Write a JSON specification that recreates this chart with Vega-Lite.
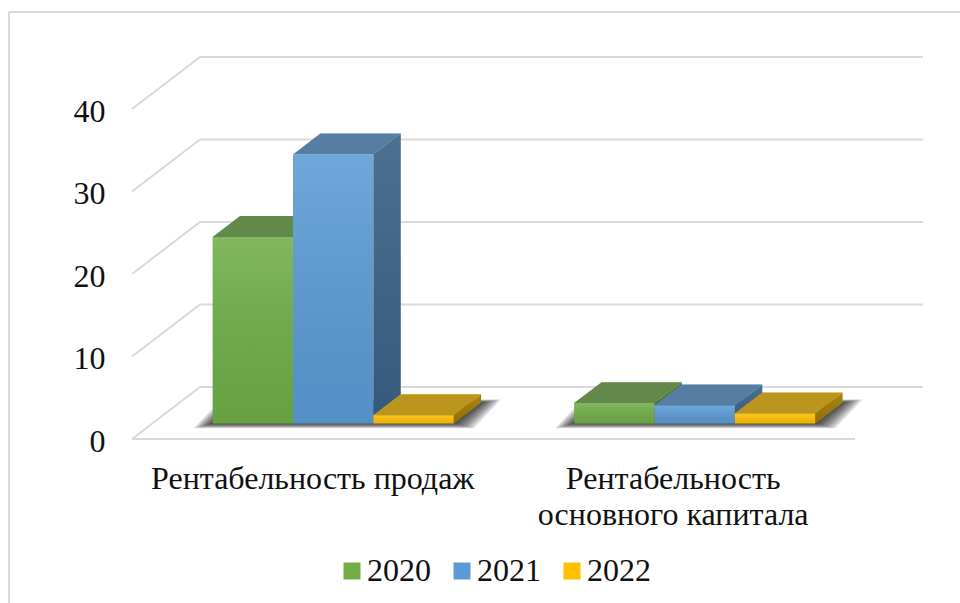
{
"$schema":"https://vega.github.io/schema/vega-lite/v6.json",
"width":960,"height":603,"padding":0,"autosize":{"type":"none"},
"background":"white",
"config":{"view":{"stroke":null}},
"data":{"values":[
{"category":"Рентабельность продаж","year":"2020","value":22.6},
{"category":"Рентабельность продаж","year":"2021","value":32.6},
{"category":"Рентабельность продаж","year":"2022","value":1.0},
{"category":"Рентабельность основного капитала","year":"2020","value":2.46},
{"category":"Рентабельность основного капитала","year":"2021","value":2.18},
{"category":"Рентабельность основного капитала","year":"2022","value":1.2}
]},
"transform":[
{"calculate":"datum.category=='Рентабельность продаж'?0:1","as":"cat"},
{"calculate":"toNumber(datum.year)-2020","as":"s"},
{"calculate":"datum.cat+1/6+datum.s*2/9","as":"u0"},
{"calculate":"datum.u0+2/9","as":"u1"}
],
"layer":[
{"data":{"values":[{"v":0},{"v":10},{"v":20},{"v":30},{"v":40}]},
 "transform":[{"calculate":"[0,1,2]","as":"c"},{"flatten":["c"]},
 {"calculate":"datum.c==2?2:0","as":"pu"},{"calculate":"datum.c==0?0:1","as":"pd"},
 {"calculate":"datum.pu+datum.pd*0.18811","as":"px"},{"calculate":"datum.v+datum.pd*6.30303","as":"py"}],
 "mark":{"type":"line","color":"#d9d9d9","strokeWidth":2},
 "encoding":{"x":{"field":"px","type":"quantitative","scale":{"domain":[-0.36515,2.29046],"nice":false},"axis":null},
 "y":{"field":"py","type":"quantitative","title":null,"scale":{"domain":[-19.879,53.212],"nice":false},
  "axis":{"values":[0,10,20,30,40],"title":null,"grid":false,"domain":false,"ticks":false,"orient":"left","offset":-105,"labelPadding":0,"labelOffset":2.5,"labelFont":"Liberation Serif","labelFontSize":32,"labelColor":"#111111"}},
 "detail":{"field":"v"},"order":{"field":"c"}}},
{"data":{"values":[{"v":0,"a":0,"b":2}]},
 "mark":{"type":"rule","color":"#d9d9d9","strokeWidth":2},
 "encoding":{"x":{"field":"a","type":"quantitative","scale":{"domain":[-0.36515,2.29046],"nice":false},"axis":null},"x2":{"field":"b"},
 "y":{"field":"v","type":"quantitative","title":null,"scale":{"domain":[-19.879,53.212],"nice":false}}}},
{"mark":{"type":"rule","color":"#d9d9d9","strokeWidth":2},
 "encoding":{"y":{"datum":51.76,"type":"quantitative","title":null,"scale":{"domain":[-19.879,53.212],"nice":false}},
 "x":{"datum":-0.34025,"type":"quantitative","scale":{"domain":[-0.36515,2.29046],"nice":false},"axis":null},"x2":{"datum":2.29046}}},
{"mark":{"type":"rule","color":"#d9d9d9","strokeWidth":2},
 "encoding":{"x":{"datum":-0.34025,"type":"quantitative","scale":{"domain":[-0.36515,2.29046],"nice":false},"axis":null},
 "y":{"datum":51.76,"type":"quantitative","title":null,"scale":{"domain":[-19.879,53.212],"nice":false}},"y2":{"datum":-19.879}}},
{"transform":[{"filter":"datum.s==0"},
 {"calculate":"[1,0.875,0.75,0.625,0.5,0.375,0.25,0.125]","as":"t"},{"flatten":["t"]},
 {"calculate":"[0,1,2,3]","as":"c"},{"flatten":["c"]},
 {"calculate":"datum.cat+1/6+((datum.c==1||datum.c==2)?2/3+20*datum.t/361.5:-19*datum.t/361.5)+(datum.c<2?0.3:0.703)*0.18811","as":"px"},
 {"calculate":"(datum.c<2?0.3:0.703)*6.30303+(datum.c<2?-0.6*datum.t:0.36*datum.t)","as":"py"},
 {"calculate":"datum.cat+'_'+datum.t","as":"g"}],
 "mark":{"type":"line","fill":"#000000","fillOpacity":0.13,"strokeWidth":0},
 "encoding":{"x":{"field":"px","type":"quantitative","scale":{"domain":[-0.36515,2.29046],"nice":false},"axis":null},
 "y":{"field":"py","type":"quantitative","title":null,"scale":{"domain":[-19.879,53.212],"nice":false}},
 "detail":{"field":"g"},"order":{"field":"c"}}},
{"transform":[{"calculate":"[0,1,2,3]","as":"c"},{"flatten":["c"]},
 {"calculate":"datum.u1+(datum.c==0||datum.c==3?0.3:0.703)*0.18811","as":"px"},
 {"calculate":"(datum.c<2?datum.value:0)+(datum.c==0||datum.c==3?0.3:0.703)*6.30303","as":"py"}],
 "mark":{"type":"line","strokeWidth":0},
 "encoding":{"x":{"field":"px","type":"quantitative","scale":{"domain":[-0.36515,2.29046],"nice":false},"axis":null},
 "y":{"field":"py","type":"quantitative","title":null,"scale":{"domain":[-19.879,53.212],"nice":false}},
 "fill":{"field":"year","type":"nominal","scale":{"domain":["2020","2021","2022"],"range":["#70ad47","#5b9bd5","#ffc000"]},"legend":{"title":null,"orient":"none","legendX":336,"legendY":555,"direction":"horizontal","symbolType":"square","symbolSize":289,"symbolStrokeWidth":0,"labelFont":"Liberation Serif","labelFontSize":32,"labelColor":"#111111","labelOffset":-1,"columnPadding":15}},
 "detail":{"field":"u0"},"order":{"field":"c"}}},
{"transform":[{"calculate":"[0,1,2,3]","as":"c"},{"flatten":["c"]},
 {"calculate":"datum.u1+(datum.c==0||datum.c==3?0.3:0.703)*0.18811","as":"px"},
 {"calculate":"(datum.c<2?datum.value:0)+(datum.c==0||datum.c==3?0.3:0.703)*6.30303","as":"py"}],
 "mark":{"type":"line","strokeWidth":0,"fill":{"gradient":"linear","x1":0,"y1":0,"x2":0,"y2":1,"stops":[{"offset":0,"color":"rgba(60,60,60,0.45)"},{"offset":1,"color":"rgba(0,0,0,0.42)"}]}},
 "encoding":{"x":{"field":"px","type":"quantitative","scale":{"domain":[-0.36515,2.29046],"nice":false},"axis":null},
 "y":{"field":"py","type":"quantitative","title":null,"scale":{"domain":[-19.879,53.212],"nice":false}},
 "detail":{"field":"u0"},"order":{"field":"c"}}},
{"transform":[{"calculate":"[0,1,2,3]","as":"c"},{"flatten":["c"]},
 {"calculate":"(datum.c==0||datum.c==3?datum.u0:datum.u1)+(datum.c<2?0.3:0.703)*0.18811","as":"px"},
 {"calculate":"datum.value+(datum.c<2?0.3:0.703)*6.30303","as":"py"}],
 "mark":{"type":"line","strokeWidth":0},
 "encoding":{"x":{"field":"px","type":"quantitative","scale":{"domain":[-0.36515,2.29046],"nice":false},"axis":null},
 "y":{"field":"py","type":"quantitative","title":null,"scale":{"domain":[-19.879,53.212],"nice":false}},
 "fill":{"field":"year","type":"nominal","scale":{"domain":["2020","2021","2022"],"range":["#70ad47","#5b9bd5","#ffc000"]},"legend":{"title":null,"orient":"none","legendX":336,"legendY":555,"direction":"horizontal","symbolType":"square","symbolSize":289,"symbolStrokeWidth":0,"labelFont":"Liberation Serif","labelFontSize":32,"labelColor":"#111111","labelOffset":-1,"columnPadding":15}},
 "detail":{"field":"u0"},"order":{"field":"c"}}},
{"transform":[{"calculate":"[0,1,2,3]","as":"c"},{"flatten":["c"]},
 {"calculate":"(datum.c==0||datum.c==3?datum.u0:datum.u1)+(datum.c<2?0.3:0.703)*0.18811","as":"px"},
 {"calculate":"datum.value+(datum.c<2?0.3:0.703)*6.30303","as":"py"}],
 "mark":{"type":"line","strokeWidth":0,"fill":"#505050","fillOpacity":0.38},
 "encoding":{"x":{"field":"px","type":"quantitative","scale":{"domain":[-0.36515,2.29046],"nice":false},"axis":null},
 "y":{"field":"py","type":"quantitative","title":null,"scale":{"domain":[-19.879,53.212],"nice":false}},
 "detail":{"field":"u0"},"order":{"field":"c"}}},
{"transform":[{"calculate":"datum.u0+0.3*0.18811","as":"fx"},{"calculate":"datum.u1+0.3*0.18811","as":"fx2"},
 {"calculate":"datum.value+0.3*6.30303","as":"fy"},{"calculate":"0.3*6.30303","as":"fy2"}],
 "mark":{"type":"rect"},
 "encoding":{"x":{"field":"fx","type":"quantitative","scale":{"domain":[-0.36515,2.29046],"nice":false},"axis":null},"x2":{"field":"fx2"},
 "y":{"field":"fy","type":"quantitative","title":null,"scale":{"domain":[-19.879,53.212],"nice":false}},"y2":{"field":"fy2"},
 "fill":{"field":"year","type":"nominal","scale":{"domain":["2020","2021","2022"],"range":["#70ad47","#5b9bd5","#ffc000"]},
  "legend":{"title":null,"orient":"none","legendX":336,"legendY":555,"direction":"horizontal","symbolType":"square","symbolSize":289,"symbolStrokeWidth":0,"labelFont":"Liberation Serif","labelFontSize":32,"labelColor":"#111111","labelOffset":-1,"columnPadding":15}}}},
{"transform":[{"calculate":"datum.u0+0.3*0.18811","as":"fx"},{"calculate":"datum.u1+0.3*0.18811","as":"fx2"},
 {"calculate":"datum.value+0.3*6.30303","as":"fy"},{"calculate":"0.3*6.30303","as":"fy2"}],
 "mark":{"type":"rect","fill":{"gradient":"linear","x1":0,"y1":0,"x2":0,"y2":1,"stops":[{"offset":0,"color":"rgba(255,255,255,0.13)"},{"offset":1,"color":"rgba(0,0,0,0.07)"}]}},
 "encoding":{"x":{"field":"fx","type":"quantitative","scale":{"domain":[-0.36515,2.29046],"nice":false},"axis":null},"x2":{"field":"fx2"},
 "y":{"field":"fy","type":"quantitative","title":null,"scale":{"domain":[-19.879,53.212],"nice":false}},"y2":{"field":"fy2"}}},
{"data":{"values":[{"pos":0.5,"at":-6.06,"label":["Рентабельность продаж"]},{"pos":1.497,"at":-6.06,"label":["Рентабельность","основного капитала"]}]},
 "mark":{"type":"text","font":"Liberation Serif","fontSize":32,"color":"#111111","align":"center","baseline":"alphabetic","lineHeight":36},
 "encoding":{"x":{"field":"pos","type":"quantitative","scale":{"domain":[-0.36515,2.29046],"nice":false},"axis":null},
 "y":{"field":"at","type":"quantitative","title":null,"scale":{"domain":[-19.879,53.212],"nice":false}},
 "text":{"field":"label"}}}
]
}
